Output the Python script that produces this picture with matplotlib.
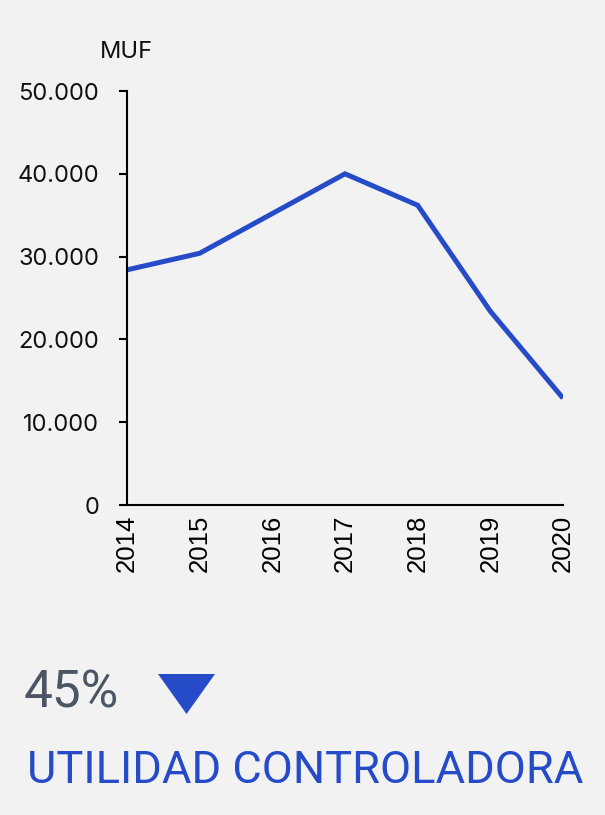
import matplotlib
matplotlib.use("Agg")
import matplotlib.pyplot as plt
from matplotlib.patches import Polygon

years = ["2014", "2015", "2016", "2017", "2018", "2019", "2020"]
utilidad = [28400, 30400, 35200, 40000, 36200, 23400, 12900]
y_ticks = [0, 10000, 20000, 30000, 40000, 50000]
y_tick_labels = ["0", "10.000", "20.000", "30.000", "40.000", "50.000"]
unit_label = "MUF"
change_label = "45%"
title = "UTILIDAD CONTROLADORA"

BG = "#F2F2F2"
BLUE = "#264BC8"
GREY = "#4B5563"

W, H = 605, 815
fig = plt.figure(figsize=(W / 100, H / 100), dpi=100, facecolor=BG)

ax = fig.add_axes([127 / W, 1 - 505 / H, (563 - 127) / W, (505 - 91) / H])
ax.set_facecolor(BG)
x = list(range(len(years)))
ax.plot(x, utilidad, color=BLUE, lw=3.6, solid_joinstyle="miter", solid_capstyle="butt")
ax.set_xlim(0, len(years) - 1)
ax.set_ylim(0, 50000)
ax.set_xticks(x)
ax.set_xticklabels(years, rotation=90, fontsize=18.5, family="Liberation Sans")
ax.set_yticks(y_ticks)
ax.set_yticklabels(y_tick_labels, fontsize=17, family="Inter", color="#111111")
ax.tick_params(axis="x", length=0, pad=7)
ax.tick_params(axis="y", length=6, width=1.5, pad=14)
for s in ["top", "right"]:
    ax.spines[s].set_visible(False)
for s in ["left", "bottom"]:
    ax.spines[s].set_linewidth(1.5)

fig.text(153 / W, 1 - 52 / H, unit_label, ha="right", va="center", fontsize=17,
         family="Inter", color="#111111")

fig.text(24 / W, 1 - 694 / H, change_label, ha="left", va="center", fontsize=37,
         family="Roboto", color=GREY)
tri = Polygon([[158 / W, 1 - 674 / H], [215 / W, 1 - 674 / H], [186.5 / W, 1 - 714 / H]],
              closed=True, transform=fig.transFigure, facecolor=BLUE, edgecolor="none")
fig.patches.append(tri)

fig.text(27 / W, 1 - 771 / H, title, ha="left", va="center", fontsize=32.6,
         family="Roboto", color=BLUE)

fig.savefig("out.png", dpi=100, facecolor=BG)
